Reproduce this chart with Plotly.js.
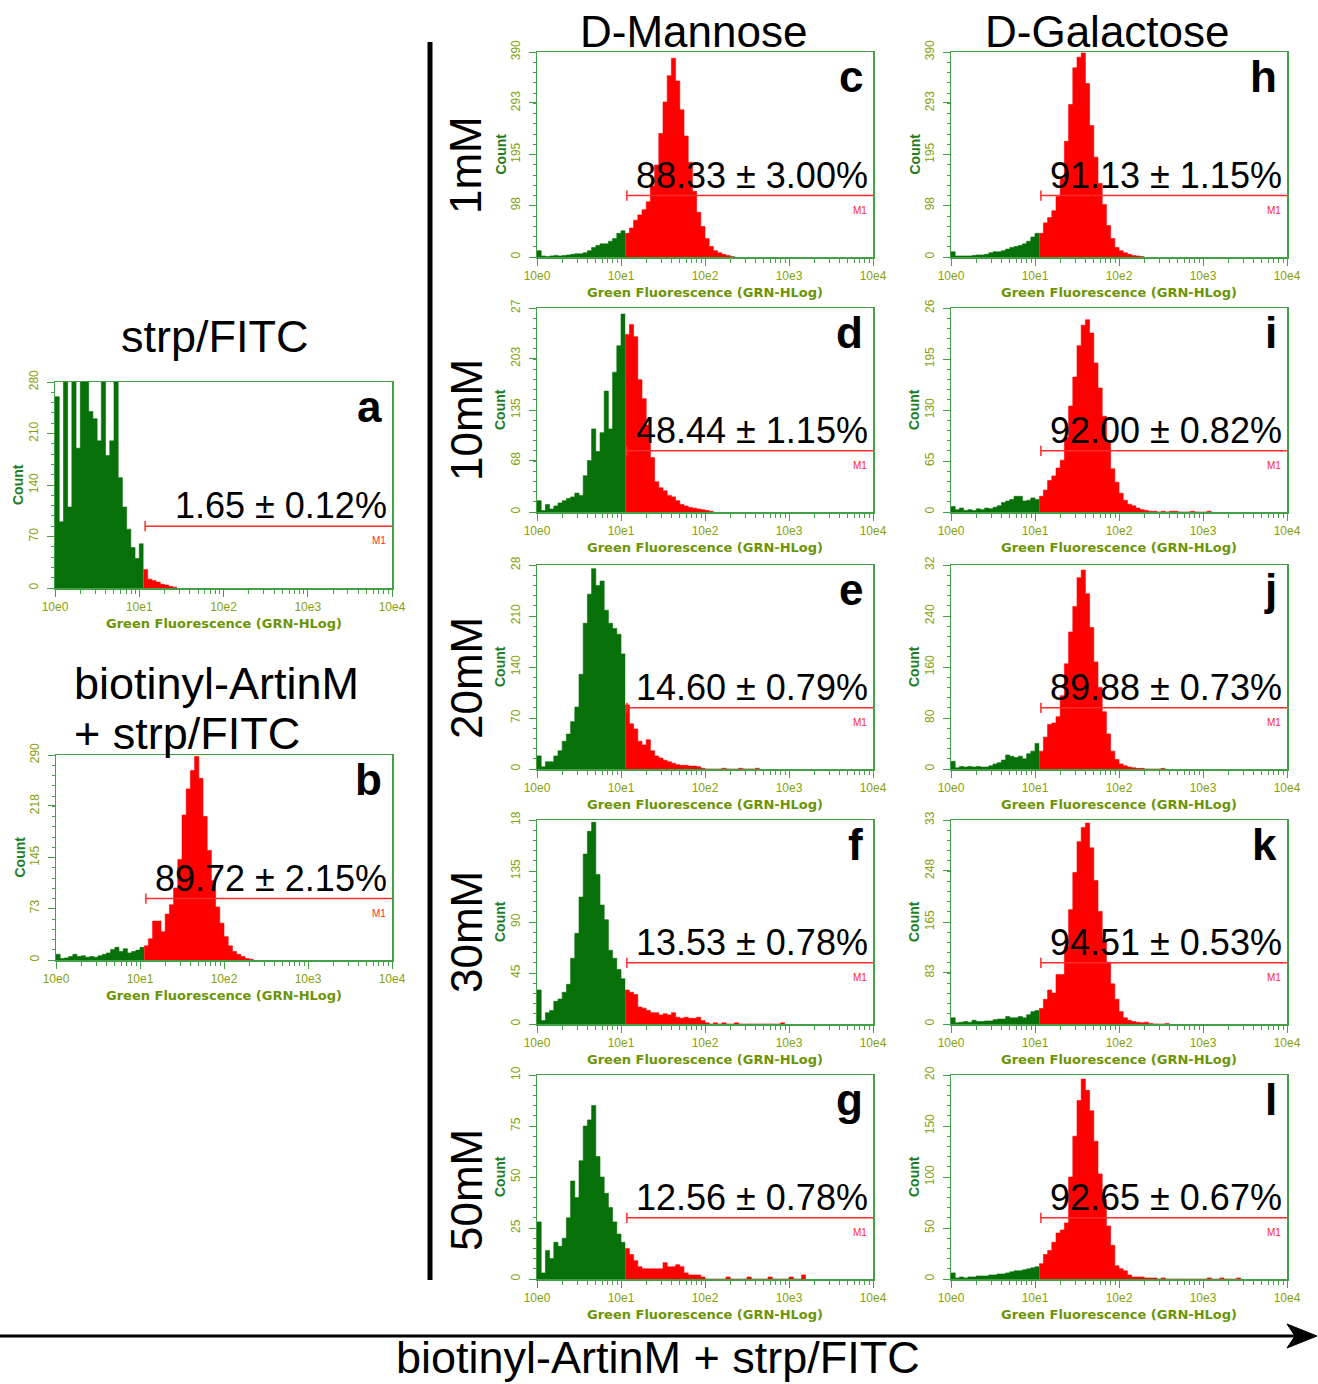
<!DOCTYPE html>
<html><head><meta charset="utf-8">
<script src="https://cdn.plot.ly/plotly-3.0.1.min.js"></script>
<style>html,body{margin:0;padding:0;background:#fff}#chart{width:1318px;height:1384px}</style>
</head><body><div id="chart"></div>
<script>
// ---------- data (counts per log channel group, from 10e0 upward) ----------
const panelLetters = ['a','b','c','d','e','f','g','h','i','j','k','l'];
const percentLabels = ['1.65 ± 0.12%','89.72 ± 2.15%','88.33 ± 3.00%','48.44 ± 1.15%','14.60 ± 0.79%','13.53 ± 0.78%','12.56 ± 0.78%','91.13 ± 1.15%','92.00 ± 0.82%','89.88 ± 0.73%','94.51 ± 0.53%','92.65 ± 0.67%'];
const columnTitles = ['D-Mannose','D-Galactose'];
const concentrations = ['1mM','10mM','20mM','30mM','50mM'];
const xTickLabels = ['10e0','10e1','10e2','10e3','10e4'];
const xTitle = 'Green Fluorescence (GRN-HLog)';
const yTitle = 'Count';
const gateName = 'M1';

const yTicksA = [0,70,140,210,280];
const yTicksB = [0,73,145,218,290];
const yTicksC = [0,98,195,293,390];
const yTicksD = [0,68,135,203,270];
const yTicksE = [0,70,140,210,280];
const yTicksF = [0,45,90,135,180];
const yTicksG = [0,25,50,75,100];
const yTicksH = [0,98,195,293,390];
const yTicksI = [0,65,130,195,260];
const yTicksJ = [0,80,160,240,320];
const yTicksK = [0,83,165,248,330];
const yTicksL = [0,50,100,150,200];
// top tick label as visible (cropped) in the figure
const topTickShown = ['280','290','390','27','28','18','10','390','26','32','33','20'];

const countsA = [260,90,280,110,280,190,280,280,240,230,200,280,180,200,280,150,110,80,55,40,60,
  25,12,10,8,5,4,2,1];
const countsB = [8,2,3,5,8,5,6,4,5,4,6,8,10,15,18,12,16,10,12,14,18,
  20,30,55,55,40,65,78,102,142,205,242,268,288,257,203,155,112,75,52,33,20,12,8,5,2,1];
const countsC = [12,2,1,2,3,2,3,4,5,6,6,8,12,18,22,25,25,30,35,45,50,
  45,55,70,80,90,105,135,175,235,295,345,378,335,280,230,180,125,85,58,35,20,12,8,5,3,1];
const countsD = [15,2,10,4,8,12,15,18,20,25,22,48,68,110,80,105,160,110,185,220,262,
  235,248,232,175,150,115,72,40,32,28,22,20,15,10,8,6,5,4,3,2,1];
const countsE = [18,3,10,10,18,25,38,48,65,85,130,200,240,275,252,258,218,200,193,185,158,
  88,62,55,38,33,40,25,18,15,12,10,8,6,5,5,4,4,3,1,0,0,0,0,1,0,0,0,1,0,0,0,1];
const countsF = [30,3,10,12,20,22,28,35,58,80,112,150,170,178,132,105,92,65,58,48,40,
  30,28,26,15,14,12,10,10,8,9,8,10,6,5,6,5,5,6,3,1,0,1,0,1,0,0,1,0,0,0,0,0,0,0,0,0,0,1];
const countsG = [28,3,14,10,18,16,20,30,48,40,58,75,78,85,60,50,42,35,28,22,18,
  15,12,9,6,5,5,5,5,5,8,6,6,7,6,3,2,2,2,1,0,0,0,0,0,1,0,0,0,0,1,0,0,0,0,1,0,0,0,0,1,0,0,2];
const countsH = [10,2,2,2,2,3,4,4,5,8,10,10,12,15,18,20,22,25,30,38,45,
  45,65,75,88,115,150,220,290,360,380,388,330,250,190,140,100,60,35,18,12,8,5,3,2,1];
const countsI = [7,3,5,2,3,2,4,3,5,4,6,8,12,14,16,20,20,14,15,18,16,
  20,28,40,46,56,66,95,135,172,212,238,245,228,190,158,122,88,55,38,24,15,10,8,5,3,2,1,1,0,1,0,1,1,0,0,0,1,0,0,0,1];
const countsJ = [12,2,4,3,4,3,4,3,3,5,8,10,14,22,20,18,20,16,24,28,40,
  28,50,70,72,82,115,165,215,255,300,312,275,222,168,128,90,55,28,15,8,5,3,2,1,1,0,0,0,0,1];
const countsK = [10,2,3,4,3,6,4,4,5,5,7,8,8,12,10,10,12,10,15,20,22,
  25,40,55,50,80,80,125,185,245,295,318,325,285,232,182,135,100,65,40,20,10,6,4,3,2,3,1,0,0,0,1];
const countsL = [6,1,2,1,2,2,3,3,3,4,4,5,5,6,7,8,8,9,10,11,12,
  15,24,28,36,45,48,55,100,140,175,196,185,165,135,103,78,52,33,13,10,8,4,2,2,2,1,1,1,0,1,0,0,0,0,0,0,0,0,0,0,1,0,0,1,0,0,0,1];

const allCounts = [countsA,countsB,countsC,countsD,countsE,countsF,countsG,countsH,countsI,countsJ,countsK,countsL];
const allTicks = [yTicksA,yTicksB,yTicksC,yTicksD,yTicksE,yTicksF,yTicksG,yTicksH,yTicksI,yTicksJ,yTicksK,yTicksL];

// ---------- structure / style ----------
const BIN = 0.05;        // log10 width of one channel group
const GATE_BIN = 21;     // first group inside marker M1 (10^1.05)
const GATE_START = Math.pow(10, 1.07); // marker's left end (fluorescence units)
const GATE_END = 10000;
const GATE_LEVEL = 0.3;  // marker height as fraction of plot height

const W = 1318, H = 1384;
const px = v => v / W, py = v => 1 - v / H;
// plot boxes in pixels [left,right,top,bottom]
const boxes = [
  [55,392,382,588],[56,392,755,960],
  [537,873,52,257],[537,873,308,512],[537,873,565,769],[537,873,820,1024],[537,873,1075,1279],
  [951,1287,52,257],[951,1287,308,512],[951,1287,565,769],[951,1287,820,1024],[951,1287,1075,1279]
];

const FONT = 'Liberation Sans, Arial, sans-serif';
const FRAME = '#44a044';
const TICKCOL = '#86a10c';
const XTITLECOL = '#6c9405';
const COUNTCOL = '#1f7d1f';
const GREEN = '#087008';
const RED = '#ff0000';
const GATECOL = '#ff2a2a';

const xMinor = [];
for (let k = 0; k < 4; k++) for (let m = 2; m <= 9; m++) xMinor.push(m * Math.pow(10, k));

function stepTrace(counts, i0, i1, color, xa, ya) {
  const xs = [], ys = [];
  for (let i = i0; i < i1; i++) { xs.push(Math.pow(10, i * BIN)); ys.push(counts[i]); }
  xs.push(Math.pow(10, i1 * BIN)); ys.push(counts[i1 - 1]);
  return {type:'scatter', mode:'lines', x:xs, y:ys, xaxis:xa, yaxis:ya,
    line:{shape:'hv', width:0.6, color:color}, fill:'tozeroy', fillcolor:color,
    hoverinfo:'skip', showlegend:false};
}

const data = [], layout = {
  width: W, height: H, margin:{l:0,r:0,t:0,b:0},
  paper_bgcolor:'#ffffff', plot_bgcolor:'#ffffff', showlegend:false,
  annotations: [], shapes: []
};

allCounts.forEach((counts, p) => {
  const n = p + 1, s = n === 1 ? '' : String(n);
  const xa = 'x' + s, ya = 'y' + s;
  const [l, r, t, b] = boxes[p];
  const ticks = allTicks[p];
  const ymax = ticks[ticks.length - 1];
  const labels = ticks.map(String); labels[labels.length - 1] = topTickShown[p];

  data.push(stepTrace(counts, 0, GATE_BIN, GREEN, xa, ya));
  data.push(stepTrace(counts, GATE_BIN, counts.length, RED, xa, ya));

  layout['xaxis' + s] = {
    domain:[px(l), px(r)], anchor:ya, type:'log', range:[0,4],
    tickmode:'array', tickvals:[1,10,100,1000,10000], ticktext:xTickLabels,
    ticks:'outside', ticklen:7, tickwidth:1, tickcolor:FRAME,
    minor:{tickmode:'array', tickvals:xMinor, ticks:'outside', ticklen:4, tickwidth:1, tickcolor:FRAME, showgrid:false},
    showline:true, linecolor:FRAME, linewidth:1.5, mirror:true,
    showgrid:false, zeroline:false, fixedrange:true,
    tickfont:{family:FONT, size:12, color:TICKCOL}
  };
  layout['yaxis' + s] = {
    domain:[py(b), py(t)], anchor:xa, range:[0, ymax],
    tickmode:'array', tickvals:ticks, ticktext:labels, tickangle:-90,
    ticks:'outside', ticklen:7, tickwidth:1, tickcolor:FRAME, ticklabelstandoff:4,
    minor:{tickmode:'linear', tick0:0, dtick:ymax/20, ticks:'outside', ticklen:3, tickwidth:1, tickcolor:FRAME, showgrid:false},
    showline:true, linecolor:FRAME, linewidth:1.5, mirror:true,
    showgrid:false, zeroline:false, fixedrange:true,
    tickfont:{family:FONT, size:12, color:TICKCOL}
  };

  const xd = xa + ' domain', yd = ya + ' domain';
  // marker M1
  layout.shapes.push({type:'line', xref:xa, yref:yd, x0:GATE_START, x1:GATE_END, y0:GATE_LEVEL, y1:GATE_LEVEL, line:{color:GATECOL, width:1.5}});
  layout.shapes.push({type:'line', xref:xa, yref:yd, x0:GATE_START, x1:GATE_START, y0:GATE_LEVEL-0.025, y1:GATE_LEVEL+0.025, line:{color:GATECOL, width:1.5}});
  layout.annotations.push({xref:xd, yref:yd, x:1, y:GATE_LEVEL, xanchor:'right', yanchor:'top', xshift:-4, yshift:-7,
    text:gateName, showarrow:false, font:{family:FONT, size:10, color:GATECOL}});
  // percentage
  layout.annotations.push({xref:xd, yref:yd, x:1, y:GATE_LEVEL, xanchor:'right', yanchor:'bottom', xshift:-3, yshift:-2,
    text:percentLabels[p], showarrow:false, font:{family:FONT, size:36, color:'#000'}});
  // panel letter
  layout.annotations.push({xref:xd, yref:yd, x:1, y:1, xanchor:'right', yanchor:'top', xshift:-8, yshift:2,
    text:'<b>' + panelLetters[p] + '</b>', showarrow:false, font:{family:FONT, size:44, color:'#000'}});
  // axis titles
  layout.annotations.push({xref:xd, yref:yd, x:0, y:0.5, xanchor:'center', yanchor:'middle', xshift:-37, textangle:-90,
    text:'<b>' + yTitle + '</b>', showarrow:false, font:{family:FONT, size:14, color:COUNTCOL}});
  layout.annotations.push({xref:xd, yref:yd, x:0.5, y:0, xanchor:'center', yanchor:'middle', yshift:-35,
    text:'<b>' + xTitle + '</b>', showarrow:false, font:{family:'DejaVu Sans, sans-serif', size:13, color:XTITLECOL}});
});

// ---------- global labels ----------
const big = {family:FONT, size:44, color:'#000'};
function txt(text, x, y, extra) {
  layout.annotations.push(Object.assign({xref:'paper', yref:'paper', x:px(x), y:py(y), xanchor:'center', yanchor:'middle',
    text:text, showarrow:false, font:big}, extra || {}));
}
txt(columnTitles[0], 693, 31);
txt(columnTitles[1], 1107, 31);
txt('strp/FITC', 215, 336, {font:Object.assign({}, big, {size:45})});
txt('biotinyl-ArtinM', 72, 683, {xanchor:'left', font:Object.assign({}, big, {size:45})});
txt('+ strp/FITC', 72, 733, {xanchor:'left', font:Object.assign({}, big, {size:45})});
const rowCenters = [165, 420, 678, 932, 1190];
concentrations.forEach((c, i) => txt(c, 466, rowCenters[i], {textangle:-90}));
txt('biotinyl-ArtinM + strp/FITC', 658, 1357, {font:Object.assign({}, big, {size:45})});

// vertical separator and bottom arrow
layout.shapes.push({type:'line', xref:'paper', yref:'paper', x0:px(430), x1:px(430), y0:py(42), y1:py(1280), line:{color:'#000', width:5}});
layout.shapes.push({type:'line', xref:'paper', yref:'paper', x0:px(0), x1:px(1298), y0:py(1336), y1:py(1336), line:{color:'#000', width:3}});
const P = (x, y) => px(x) + ',' + py(y);
layout.shapes.push({type:'path', xref:'paper', yref:'paper',
  path:'M' + P(1317,1336) + ' L' + P(1287,1324) + ' L' + P(1295,1336) + ' L' + P(1287,1348) + ' Z',
  fillcolor:'#000', line:{color:'#000', width:1}});

Plotly.newPlot('chart', data, layout, {staticPlot:true, displayModeBar:false});
</script></body></html>
